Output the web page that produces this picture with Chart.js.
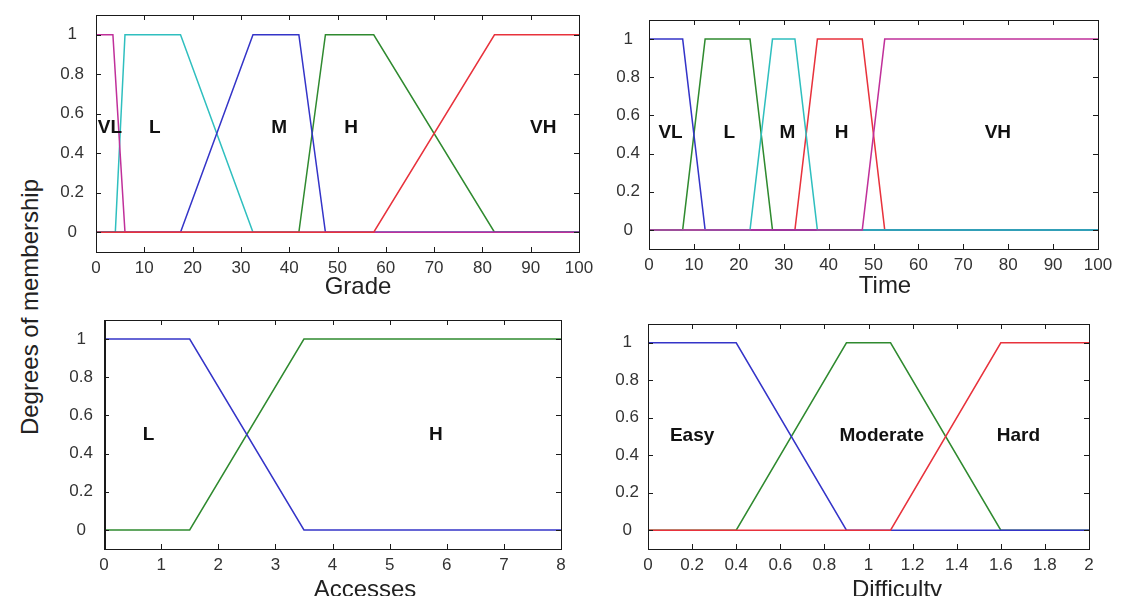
<!DOCTYPE html>
<html>
<head>
<meta charset="utf-8">
<script src="https://cdn.jsdelivr.net/npm/chart.js@4.4.1/dist/chart.umd.min.js"></script>
<style>
  html, body { margin: 0; padding: 0; background: #fff; width: 1136px; height: 596px; overflow: hidden; }
  canvas { position: absolute; }
  #ytitle {
    position: absolute; left: 30px; top: 307px;
    transform: translate(-50%, -50%) rotate(-90deg);
    font: 24px "Liberation Sans", Arial, sans-serif; color: #222; white-space: nowrap;
  }
</style>
</head>
<body>
<div id="ytitle">Degrees of membership</div>
<canvas id="grade" width="570" height="300" style="left:40px;top:0px"></canvas>
<canvas id="time" width="536" height="300" style="left:600px;top:0px"></canvas>
<canvas id="accesses" width="570" height="310" style="left:40px;top:300px"></canvas>
<canvas id="difficulty" width="536" height="310" style="left:600px;top:300px"></canvas>
<script>
// membership ticks shared by all four panels
const memTicks = [0, 0.2, 0.4, 0.6, 0.8, 1];

// Grade
const gradeTicks = [0, 10, 20, 30, 40, 50, 60, 70, 80, 90, 100];
const gradeVLx = [0, 3.5, 6, 100],              gradeVLy = [1, 1, 0, 0];
const gradeLx  = [0, 4, 6, 17.5, 32.5, 100],    gradeLy  = [0, 0, 1, 1, 0, 0];
const gradeMx  = [0, 17.5, 32.5, 42, 47.5, 100], gradeMy = [0, 0, 1, 1, 0, 0];
const gradeHx  = [0, 42, 47.5, 57.5, 82.5, 100], gradeHy = [0, 0, 1, 1, 0, 0];
const gradeVHx = [0, 57.5, 82.5, 100],          gradeVHy = [0, 0, 1, 1];
const gradeNames = ['VL', 'L', 'M', 'H', 'VH'];
const gradeNameX = [2.9, 12.2, 37.9, 52.8, 92.6];

// Time
const timeTicks = [0, 10, 20, 30, 40, 50, 60, 70, 80, 90, 100];
const timeVLx = [0, 7.5, 12.5, 100],             timeVLy = [1, 1, 0, 0];
const timeLx  = [0, 7.5, 12.5, 22.5, 27.5, 100], timeLy  = [0, 0, 1, 1, 0, 0];
const timeMx  = [0, 22.5, 27.5, 32.5, 37.5, 100], timeMy = [0, 0, 1, 1, 0, 0];
const timeHx  = [0, 32.5, 37.5, 47.5, 52.5, 100], timeHy = [0, 0, 1, 1, 0, 0];
const timeVHx = [0, 47.5, 52.5, 100],            timeVHy = [0, 0, 1, 1];
const timeNames = ['VL', 'L', 'M', 'H', 'VH'];
const timeNameX = [4.8, 17.9, 30.8, 42.9, 77.7];

// Accesses
const accTicks = [0, 1, 2, 3, 4, 5, 6, 7, 8];
const accLx = [0, 1.5, 3.5, 8], accLy = [1, 1, 0, 0];
const accHx = [0, 1.5, 3.5, 8], accHy = [0, 0, 1, 1];
const accNames = ['L', 'H'];
const accNameX = [0.78, 5.81];

// Difficulty
const diffTicks = [0, 0.2, 0.4, 0.6, 0.8, 1, 1.2, 1.4, 1.6, 1.8, 2];
const diffEasyx = [0, 0.4, 0.9, 2],           diffEasyy = [1, 1, 0, 0];
const diffModx  = [0, 0.4, 0.9, 1.1, 1.6, 2], diffMody  = [0, 0, 1, 1, 0, 0];
const diffHardx = [0, 1.1, 1.6, 2],           diffHardy = [0, 0, 1, 1];
const diffNames = ['Easy', 'Moderate', 'Hard'];
const diffNameX = [0.2, 1.06, 1.68];

const BLUE = '#3434c8', GREEN = '#2f8a2f', CYAN = '#2fbfbf', RED = '#e8323c', MAGENTA = '#c0309a';
const FONT = '"Liberation Sans", Arial, Helvetica, sans-serif';

Chart.defaults.font.family = FONT;
Chart.defaults.color = '#333';

function pts(xs, ys) { return xs.map((x, i) => ({ x: x, y: ys[i] })); }

// box, inward tick marks, region names and x title
const framePlugin = {
  id: 'frame',
  afterDatasetsDraw(chart, args, o) {
    const { ctx, chartArea: a } = chart;
    const x = chart.scales.x, y = chart.scales.y;
    ctx.save();
    ctx.strokeStyle = '#1a1a1a';
    ctx.lineWidth = 1;
    ctx.strokeRect(Math.round(a.left) + 0.5, Math.round(a.top) + 0.5,
                   Math.round(a.right - a.left), Math.round(a.bottom - a.top));
    if (o.thickLeft) {
      ctx.lineWidth = 2;
      ctx.beginPath(); ctx.moveTo(a.left + 1, a.top); ctx.lineTo(a.left + 1, a.bottom); ctx.stroke();
      ctx.lineWidth = 1;
    }
    ctx.beginPath();
    x.ticks.forEach(t => {
      const px = Math.round(x.getPixelForValue(t.value)) + 0.5;
      ctx.moveTo(px, a.bottom); ctx.lineTo(px, a.bottom - 5);
      ctx.moveTo(px, a.top); ctx.lineTo(px, a.top + 5);
    });
    y.ticks.forEach(t => {
      const py = Math.round(y.getPixelForValue(t.value)) + 0.5;
      ctx.moveTo(a.left, py); ctx.lineTo(a.left + 5, py);
      ctx.moveTo(a.right, py); ctx.lineTo(a.right - 5, py);
    });
    ctx.stroke();

    ctx.fillStyle = '#111';
    ctx.textAlign = 'center';
    ctx.textBaseline = 'middle';
    ctx.font = 'bold 19px ' + FONT;
    o.names.forEach((n, i) => {
      ctx.fillText(n, x.getPixelForValue(o.nameX[i]), y.getPixelForValue(o.nameY));
    });
    ctx.font = '24px ' + FONT;
    ctx.fillStyle = '#222';
    ctx.fillText(o.title, o.titleX, o.titleY);
    ctx.restore();
  }
};

function makeChart(id, p) {
  return new Chart(document.getElementById(id), {
    type: 'scatter',
    data: {
      datasets: p.series.map(s => ({
        data: pts(s[0], s[1]),
        showLine: true,
        borderColor: s[2],
        borderWidth: 1.5,
        pointRadius: 0,
        tension: 0,
        fill: false
      }))
    },
    options: {
      responsive: false,
      animation: false,
      layout: { padding: p.pad },
      plugins: {
        legend: { display: false },
        tooltip: { enabled: false },
        frame: { names: p.names, nameX: p.nameX, nameY: p.nameY, title: p.title,
                 titleX: p.titleX, titleY: p.titleY, thickLeft: p.thickLeft }
      },
      scales: {
        x: {
          type: 'linear', min: p.xTicks[0], max: p.xTicks[p.xTicks.length - 1],
          grid: { display: false, drawTicks: false },
          border: { display: false },
          afterBuildTicks: s => { s.ticks = p.xTicks.map(v => ({ value: v })); },
          afterFit: s => { s.height = p.xHeight; s.paddingLeft = 0; s.paddingRight = 0; },
          ticks: { font: { size: 17 }, padding: 6, maxRotation: 0, autoSkip: false,
                   callback: v => String(+v.toFixed(2)) }
        },
        y: {
          type: 'linear', min: -0.1, max: 1.1,
          grid: { display: false, drawTicks: false },
          border: { display: false },
          afterBuildTicks: s => { s.ticks = memTicks.map(v => ({ value: v })); },
          afterFit: s => { s.width = p.yWidth; s.paddingTop = 0; s.paddingBottom = 0; },
          ticks: { font: { size: 17 }, padding: p.yPad, crossAlign: 'center',
                   callback: v => String(+v.toFixed(2)) }
        }
      }
    },
    plugins: [framePlugin]
  });
}

makeChart('grade', {
  xTicks: gradeTicks,
  series: [[gradeVHx, gradeVHy, RED], [gradeVLx, gradeVLy, MAGENTA], [gradeMx, gradeMy, BLUE],
           [gradeHx, gradeHy, GREEN], [gradeLx, gradeLy, CYAN]],
  names: gradeNames, nameX: gradeNameX, nameY: 0.53,
  title: 'Grade', titleX: 318, titleY: 287.5,
  pad: { top: 15, right: 31, left: 0, bottom: 0 }, yWidth: 56, xHeight: 48, yPad: 12
});

makeChart('time', {
  xTicks: timeTicks,
  series: [[timeVHx, timeVHy, MAGENTA], [timeMx, timeMy, CYAN], [timeVLx, timeVLy, BLUE],
           [timeLx, timeLy, GREEN], [timeHx, timeHy, RED]],
  names: timeNames, nameX: timeNameX, nameY: 0.51,
  title: 'Time', titleX: 285, titleY: 286.5,
  pad: { top: 20, right: 38, left: 0, bottom: 0 }, yWidth: 49, xHeight: 51, yPad: 9
});

makeChart('accesses', {
  xTicks: accTicks,
  series: [[accLx, accLy, BLUE], [accHx, accHy, GREEN]],
  names: accNames, nameX: accNameX, nameY: 0.5,
  title: 'Accesses', titleX: 325, titleY: 290, thickLeft: true,
  pad: { top: 20, right: 49, left: 0, bottom: 0 }, yWidth: 64, xHeight: 61, yPad: 11
});

makeChart('difficulty', {
  xTicks: diffTicks,
  series: [[diffHardx, diffHardy, RED], [diffEasyx, diffEasyy, BLUE], [diffModx, diffMody, GREEN]],
  names: diffNames, nameX: diffNameX, nameY: 0.505,
  title: 'Difficulty', titleX: 297, titleY: 290,
  pad: { top: 24, right: 47, left: 0, bottom: 0 }, yWidth: 48, xHeight: 61, yPad: 9
});
</script>
</body>
</html>
